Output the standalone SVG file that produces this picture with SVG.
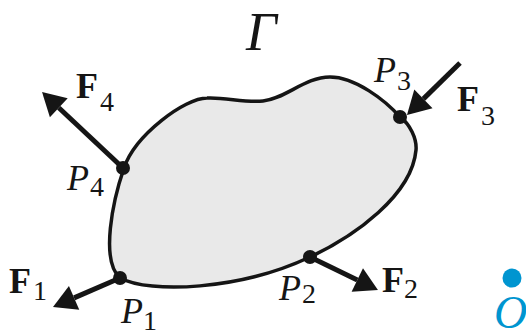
<svg xmlns="http://www.w3.org/2000/svg" width="526" height="334" viewBox="0 0 526 334">
<style>
.body{fill:#e9e9e9;stroke:#151515;stroke-width:3.5}
.dot{fill:#151515}
.force{stroke:#151515;stroke-width:5;fill:none;marker-end:url(#head)}
.it{font-family:"Liberation Serif",serif;font-style:italic;fill:#151515}
.bf{font-family:"Liberation Serif",serif;font-weight:bold;fill:#151515}
.sub{font-family:"Liberation Serif",serif;fill:#151515}
.p{font-size:36px}
.ps{font-size:28px}
.f{font-size:36px}
.fs{font-size:28px}
.blue{fill:#0095d0}
</style>
<defs>
<marker id="head" markerUnits="userSpaceOnUse" markerWidth="24" markerHeight="26" refX="0" refY="13" orient="auto" overflow="visible">
<path d="M0,0 L23,13 L0,26 Z" fill="#151515"/>
</marker>
</defs>
<g id="body">
<path class="body" d="M120,278 C150,294 240,290 310,257 C355,236 412,195 416,150 C417,139 410,124 400,117 C385,100 355,77 330,77 C305,77 285,99 263,101 C245,103 225,97 207,98 C185,98 135,135 124,168 C113,200 100,260 120,278 Z"/>
<text class="it" x="246" y="50" font-size="54">Γ</text>
</g>
<g id="connectors">
<line class="force" x1="123" y1="168" x2="58.8" y2="107.7"/>
<line class="force" x1="460" y1="63" x2="423.4" y2="98.9"/>
<line class="force" x1="120" y1="278" x2="74.1" y2="297.9"/>
<line class="force" x1="310" y1="257" x2="357.3" y2="280"/>
</g>
<g id="P1"><circle class="dot" cx="120" cy="278" r="7"/><text class="it p" x="121" y="323">P</text><text class="sub ps" x="143" y="330">1</text></g>
<g id="P2"><circle class="dot" cx="310" cy="257" r="7"/><text class="it p" x="279" y="300">P</text><text class="sub ps" x="302" y="303">2</text></g>
<g id="P3"><circle class="dot" cx="400" cy="117" r="7"/><text class="it p" x="374" y="82">P</text><text class="sub ps" x="397" y="90">3</text></g>
<g id="P4"><circle class="dot" cx="123" cy="168" r="7"/><text class="it p" x="67" y="190">P</text><text class="sub ps" x="90" y="196">4</text></g>
<g id="F1"><text class="bf f" x="9" y="293">F</text><text class="sub fs" x="33" y="300">1</text></g>
<g id="F2"><text class="bf f" x="382" y="292">F</text><text class="sub fs" x="404" y="298">2</text></g>
<g id="F3"><text class="bf f" x="457" y="111">F</text><text class="sub fs" x="481" y="125">3</text></g>
<g id="F4"><text class="bf f" x="76" y="98">F</text><text class="sub fs" x="100" y="111">4</text></g>
<g id="O"><circle class="blue" cx="512" cy="278" r="9.5"/><text class="it blue" x="494" y="328" font-size="46">O</text></g>
</svg>
